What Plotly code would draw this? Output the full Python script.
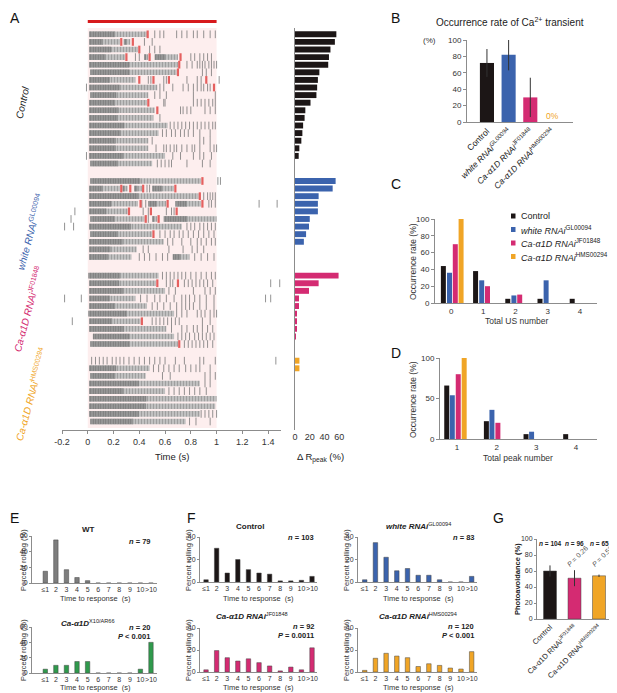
import plotly.graph_objects as go

# the page body keeps an 8 px margin, so the figure is drawn 8 px smaller and
# every position below is given in page pixels
PAGE_W, PAGE_H = 617, 693
OFF = 8
W, H = PAGE_W - OFF, PAGE_H - OFF
FONT = "Liberation Sans, Arial, sans-serif"
BLACK = "#1c1616"
BLUE = "#3b63ad"
PINK = "#d42b72"
ORANGE = "#f0a526"
GREEN = "#2f9a4c"
GRAY = "#7d7d7d"


def px(x):
    return (x - OFF) / W


def py(y):
    return 1 - (y - OFF) / H


# ---------------- panel A raster data (time in s) ----------------
ctrl_dense = [[(0.01, 0.46)], [(0.01, 0.25), (0.28, 0.33)], [(0.01, 0.39)],
              [(0.01, 0.29), (0.44, 0.47), (0.52, 0.70)], [(0.01, 0.70)], [(0.02, 0.69)],
              [(0.01, 0.37)], [(0.01, 0.54)], [(0.02, 0.47)], [(0.01, 0.46)], [(0.01, 0.52)],
              [(0.01, 0.51)], [(0.01, 0.62)], [(0.01, 0.55)], [(0.01, 0.47)], [(0.01, 0.47)],
              [(0.01, 0.60)], [(0.02, 0.50)]]
ctrl_red = [[0.465], [0.26, 0.35], [0.40], [0.30, 0.48, 0.72], [0.71], [0.70],
            [0.40, 0.51, 0.63, 0.92], [0.98], [], [0.47], [0.54], [], [], [], [], [], [], []]
ctrl_ticks = [[0.52, 0.56, 0.59, 0.69, 0.73, 0.77, 0.82, 0.85, 0.90, 0.95, 0.99],
              [0.44, 0.50], [0.48, 0.52, 0.56],
              [0.37, 0.40, 0.80, 0.83, 0.87, 0.90, 0.93, 0.96],
              [0.77, 0.81, 0.85, 0.87, 0.89, 0.91, 0.94, 0.96, 0.98, 1.0],
              [0.89, 0.92, 0.96],
              [0.47, 0.49, 0.59, 0.61, 0.77, 0.85, 0.88, 1.02],
              [-0.01, 0.56, 0.59, 0.66, 0.74, 0.78, 0.82, 0.85, 0.88, 0.90, 0.93, 0.95],
              [0.52, 0.56, 0.61, 0.82, 0.99],
              [0.59, 0.60, 0.82, 0.85, 0.88, 0.91, 0.94, 0.97, 0.99],
              [0.72, 0.74, 0.77, 0.80, 0.91, 0.95, 0.99],
              [0.56],
              [0.64, 0.67, 0.70, 0.73, 0.76, 0.79, 0.82, 0.85, 0.88, 0.91, 0.94, 0.97, 0.99],
              [0.58, 0.61, 0.65, 0.68, 0.72, 0.75, 0.78, 0.82, 0.87, 0.95],
              [0.50, 0.87, 0.90, 0.95],
              [0.53, 0.59, 0.61, 0.64, 0.67, 0.69, 0.73, 0.77, 0.81, 0.83, 0.87, 0.95, 0.98, 1.0],
              [-0.01, 0.66, 0.72, 0.82, 0.87, 0.90, 0.96],
              [0.54, 0.57, 0.60, 0.63, 0.65, 0.77, 0.89, 0.95]]

white_dense = [[(0.02, 0.88)], [(0.01, 0.25), (0.27, 0.31), (0.36, 0.42), (0.50, 0.67)],
               [(0.01, 0.86)], [(0.01, 0.39), (0.47, 0.61), (0.68, 0.88)], [(0.01, 0.31)],
               [(0.02, 0.44), (0.50, 0.54), (0.59, 1.0)], [(0.01, 0.73)], [(0.02, 0.50)],
               [(0.01, 0.59)], [(0.01, 0.38)], [(0.01, 0.34), (0.66, 0.79)]]
white_red = [[0.89], [0.26, 0.33, 0.43, 0.68], [0.87], [0.41, 0.62, 0.89], [0.32, 0.49, 0.69],
             [0.45, 0.55], [], [0.51], [], [], []]
white_ticks = [[1.01, 1.03], [0.46, 0.48], [0.90, 0.93, 0.95, 0.97, 0.99],
               [0.42, 0.45, 0.94, 0.96, 0.99, 1.33, 1.47],
               [-0.10, 0.43, 0.47, 0.61, 0.65, 0.67], [-0.13, 0.47],
               [-0.18, -0.11, 0.77, 0.80, 0.83, 0.87, 0.90, 0.93, 0.96, 0.99],
               [0.56, 0.60, 0.64, 0.67, 0.71, 0.74, 0.78, 0.82, 0.86, 0.90, 0.94, 0.98],
               [0.62, 0.66, 0.73, 0.80, 0.85, 0.88, 0.92, 0.96, 0.99],
               [0.43, 0.47, 0.63, 0.74, 0.81, 0.85, 0.90],
               [0.40, 0.44, 0.48, 0.53, 0.58, 0.62, 0.83, 0.88, 0.93, 0.98]]

jf_dense = [[(0.005, 0.55)], [(0.01, 0.53)], [(0.01, 0.60)], [(0.01, 0.37)], [(0.01, 0.46)],
            [(0.005, 0.67)], [(0.01, 0.41)], [(0.01, 0.61)], [(0.04, 0.67)], [(0.02, 0.70)]]
jf_red = [[], [0.54, 0.70], [], [], [], [], [0.42], [], [], [0.71]]
jf_ticks = [[0.58, 0.61, 0.64, 0.67, 0.70, 0.73, 0.76, 0.80, 0.84, 0.88, 0.92, 0.96, 0.99],
            [0.61, 0.64, 0.66, 0.75, 0.78, 0.81, 0.84, 0.87, 0.90, 0.93, 0.97, 1.42, 1.49],
            [0.63, 0.68, 0.82, 0.91, 0.95, 0.99],
            [-0.18, -0.05, 0.41, 0.46, 0.52, 0.56, 0.61, 0.67, 0.73, 0.76, 0.79, 0.83, 0.87,
             0.92, 0.98, 1.38, 1.42],
            [0.50, 0.54, 0.59, 0.64, 0.69, 0.73, 0.76, 0.79, 0.82, 0.87, 0.92, 0.98],
            [0.69, 0.73, 0.77, 0.85, 0.88, 0.91, 0.95, 0.98, 1.0],
            [-0.12, 0.50, 0.53, 0.56, 0.59, 0.62, 0.65, 0.68, 0.71, 0.89, 0.95],
            [0.65, 0.73, 0.77, 0.82, 0.85, 0.89, 0.93, 0.97],
            [0.70, 0.73, 0.76, 0.79, 0.83, 0.86, 0.89, 0.92, 0.95, 0.98],
            [0.75, 0.78, 0.81, 0.84, 0.87, 0.90, 0.93, 0.97]]

hms_dense = [[], [(0.01, 0.48)], [(0.02, 0.45)], [(0.01, 0.87)], [(0.01, 0.60)],
             [(0.01, 1.0)], [(0.01, 0.99)], [(0.01, 0.87)], [(0.02, 0.76)]]
hms_red = [[] for _ in range(9)]
hms_ticks = [[0.03, 0.06, 0.09, 0.12, 0.15, 0.19, 0.22, 0.25, 0.28, 0.32, 0.36, 0.40, 0.44,
              0.48, 0.52, 0.56, 0.60, 0.68, 0.75, 0.87, 0.90, 0.99, 1.46],
             [0.51, 0.55, 0.59, 0.63, 0.67, 0.71, 0.76, 0.80, 0.84, 0.87, 0.95],
             [0.58, 0.64, 0.91, 0.95, 0.99], [0.91, 0.95],
             [0.63, 0.67, 0.71, 0.75, 0.79, 0.83, 0.87, 0.92], [], [],
             [0.88, 0.91, 0.94, 0.97, 1.0], [0.79, 0.84, 0.95]]

# delta R peak (%)
ctrl_peak = [56, 54, 48, 46, 45, 33, 31, 30, 29, 21, 14, 13, 11, 10, 8.6, 5.9, 5]
white_peak = [55, 51, 32, 31, 31, 20, 19, 15, 12]
jf_peak = [59, 32, 19, 5.4, 5.4, 1.8, 1.8, 1.4, 0.5]
hms_peak = [6, 6]

# ---------------- panel B ----------------
b_labels = ["Control", "<i>white RNAi</i><sup>GL00094</sup>",
            "<i>Ca-α1D RNAi</i><sup>JF01848</sup>", "<i>Ca-α1D RNAi</i><sup>HMS00294</sup>"]
b_vals = [72, 82, 30, 0]
b_err = [17, 19, 24, 0]

# ---------------- panel C / D ----------------
us_cats = [0, 1, 2, 3, 4]
c_ctrl = [44, 38, 5, 5, 5]
c_white = [36, 27, 9, 27, 0]
c_jf = [70, 20, 10, 0, 0]
c_hms = [100, 0, 0, 0, 0]
peak_cats = [1, 2, 3, 4]
d_ctrl = [66, 22, 6, 6]
d_white = [54, 36, 9, 0]
d_jf = [80, 20, 0, 0]
d_hms = [100, 0, 0, 0]

# ---------------- panel E / F ----------------
time_cats = ["≤1", "2", "3", "4", "5", "6", "7", "8", "9", "10", ">10"]
e_wt = [15, 55, 17, 7, 3, 0, 0, 0, 0, 0, 0]
e_x10 = [5, 10, 10, 15, 15, 0, 0, 0, 0, 5, 40]
f_ctrl = [2, 30, 8, 20, 11, 8, 7, 1, 1, 1.5, 5]
f_white = [2, 35, 22, 10, 12, 6, 6, 2, 0, 0, 5]
f_jf = [2, 19.5, 13, 10, 12, 8.5, 5.5, 1, 4.5, 2, 22]
f_hms = [1.5, 12.5, 17, 14.5, 13, 5, 7.5, 6, 3.6, 2.7, 18.5]

# ---------------- panel G ----------------
g_labels = ["Control", "Ca-α1D RNAi<sup>JF01848</sup>", "Ca-α1D RNAi<sup>HMS00294</sup>"]
g_vals = [60, 51, 54]
g_err = [7, 10, 1.5]

fig = go.Figure()

# ---- A raster ----
group_offsets = [0, 19.3, 31.76, 42.95]
groups = [(ctrl_dense, ctrl_ticks, ctrl_red, ctrl_peak, BLACK),
          (white_dense, white_ticks, white_red, white_peak, BLUE),
          (jf_dense, jf_ticks, jf_red, jf_peak, PINK),
          (hms_dense, hms_ticks, hms_red, hms_peak, ORANGE)]

dy, dbase, dlen, ty, tx, ry, rx = [], [], [], [], [], [], []
for (dense, ticks, red, peak, col), off in zip(groups, group_offsets):
    for i, row in enumerate(dense):
        for a, b in row:
            dy.append(off + i)
            dbase.append(a)
            dlen.append(b - a)
        for t in ticks[i]:
            ty.append(off + i)
            tx.append(t)
        for t in red[i]:
            ry.append(off + i)
            rx.append(t)
    fig.add_trace(go.Bar(orientation="h", y=[off + i for i in range(len(peak))], x=peak,
                         width=0.78, marker=dict(color=col, line=dict(width=0)),
                         xaxis="x2", yaxis="y2", showlegend=False))

# dense firing: light striped block, darker over its first part
fig.add_trace(go.Bar(orientation="h", y=dy, x=dlen, base=dbase, width=0.74,
                     marker=dict(color="#bdbdbd", line=dict(width=0),
                                 pattern=dict(shape="|", fgcolor="#777777", bgcolor="#c6c6c6",
                                              size=3, solidity=0.45)),
                     xaxis="x", yaxis="y", showlegend=False))
fig.add_trace(go.Bar(orientation="h", y=dy, x=[d * 0.45 for d in dlen], base=dbase, width=0.74,
                     marker=dict(color="#8a8a8a", line=dict(width=0),
                                 pattern=dict(shape="|", fgcolor="#555555", bgcolor="#a0a0a0",
                                              size=2.5, solidity=0.5)),
                     xaxis="x", yaxis="y", showlegend=False))
fig.add_trace(go.Scatter(x=tx, y=ty, mode="markers", xaxis="x", yaxis="y", showlegend=False,
                         marker=dict(symbol="line-ns", size=5.5,
                                     line=dict(color="#777777", width=0.8))))
fig.add_trace(go.Scatter(x=rx, y=ry, mode="markers", xaxis="x", yaxis="y", showlegend=False,
                         marker=dict(symbol="line-ns", size=5.5,
                                     line=dict(color="#e5605f", width=2.2))))

# ---- B ----
fig.add_trace(go.Bar(x=list(range(4)), y=b_vals, width=0.65,
                     marker=dict(color=[BLACK, BLUE, PINK, ORANGE], line=dict(width=0)),
                     error_y=dict(type="data", array=b_err, color="#333", thickness=1, width=0),
                     xaxis="x3", yaxis="y3", showlegend=False))

# ---- C / D ----
c_off = [-0.24, -0.05, 0.13, 0.31]
d_off = [-0.26, -0.12, 0.03, 0.18]
for vals, col, o in zip([c_ctrl, c_white, c_jf, c_hms], [BLACK, BLUE, PINK, ORANGE], c_off):
    fig.add_trace(go.Bar(x=us_cats, y=vals, width=0.155, offset=o - 0.0775,
                         marker=dict(color=col, line=dict(width=0)),
                         xaxis="x4", yaxis="y4", showlegend=False))
for vals, col, o in zip([d_ctrl, d_white, d_jf, d_hms], [BLACK, BLUE, PINK, ORANGE], d_off):
    fig.add_trace(go.Bar(x=peak_cats, y=vals, width=0.126, offset=o - 0.063,
                         marker=dict(color=col, line=dict(width=0)),
                         xaxis="x5", yaxis="y5", showlegend=False))

# ---- E / F ----
ef = [(e_wt, GRAY, 6), (e_x10, GREEN, 7), (f_ctrl, BLACK, 8), (f_white, BLUE, 9),
      (f_jf, PINK, 10), (f_hms, ORANGE, 11)]
for vals, col, k in ef:
    fig.add_trace(go.Bar(x=list(range(11)), y=vals, width=0.42,
                         marker=dict(color=col, line=dict(width=0.5, color="#444")),
                         xaxis=f"x{k}", yaxis=f"y{k}", showlegend=False))

# ---- G ----
fig.add_trace(go.Bar(x=list(range(3)), y=g_vals, width=0.53,
                     marker=dict(color=[BLACK, PINK, ORANGE], line=dict(width=0.5, color="#444")),
                     error_y=dict(type="data", array=g_err, color="#333", thickness=1, width=0),
                     xaxis="x12", yaxis="y12", showlegend=False))


def axis(domain, rng, size=8, **kw):
    d = dict(domain=domain, range=rng, showline=True, linecolor="#8c8c8c", linewidth=1,
             ticks="outside", ticklen=3, tickcolor="#8c8c8c", showgrid=False, zeroline=False,
             tickfont=dict(size=size, color="#333", family=FONT), fixedrange=True,
             automargin=False, tickangle=0)
    d.update(kw)
    return d


ax = {}
ax["xaxis"] = axis([px(62), px(281)], [-0.2, 1.5], size=9, anchor="y",
                   tickvals=[-0.2, 0, 0.2, 0.4, 0.6, 0.8, 1, 1.2, 1.4],
                   ticktext=["-0.2", "0", "0.2", "0.4", "0.6", "0.8", "1", "1.2", "1.4"])
ax["yaxis"] = axis([py(430), py(28)], [52.07, -0.83], anchor="x", visible=False)
ax["xaxis2"] = axis([px(295), px(343)], [0, 65], size=9, anchor="y2", showline=False,
                    ticks="", tickvals=[0, 20, 40, 60])
ax["yaxis2"] = axis([py(430), py(28)], [52.07, -0.83], anchor="x2", ticks="",
                    showticklabels=False)
ax["xaxis3"] = axis([px(467), px(573)], [-0.92, 3.97], anchor="y3", ticks="",
                    tickvals=list(range(4)), ticktext=b_labels, tickangle=-45,
                    tickfont=dict(size=8.5, color="#222", family=FONT))
ax["yaxis3"] = axis([py(122), py(40)], [0, 100], anchor="x3", tickvals=list(range(0, 101, 20)))
ax["xaxis4"] = axis([px(435), px(597)], [-0.5, 4.53], anchor="y4", ticks="", tickvals=us_cats)
ax["yaxis4"] = axis([py(303), py(219)], [0, 100], anchor="x4", tickvals=list(range(0, 101, 20)))
ax["xaxis5"] = axis([px(440), px(597)], [0.57, 4.53], anchor="y5", ticks="",
                    tickvals=peak_cats)
ax["yaxis5"] = axis([py(439), py(358)], [0, 100], anchor="x5", tickvals=[0, 50, 100])

ef_dom = {6: ([32, 157], [583, 536], [-1.26, 10.57], 60),
          7: ([32, 157], [673, 627], [-1.26, 10.57], 60),
          8: ([200, 317], [582, 537], [-0.57, 10.47], 40),
          9: ([358, 477], [582, 537], [-0.63, 10.5], 40),
          10: ([200, 317], [672, 628], [-0.57, 10.47], 40),
          11: ([358, 477], [672, 628], [-0.63, 10.5], 40)}
for k, (xd, yd, xr, ym) in ef_dom.items():
    ax[f"xaxis{k}"] = axis([px(xd[0]), px(xd[1])], xr, size=7, anchor=f"y{k}",
                           tickvals=list(range(11)), ticktext=time_cats, ticks="")
    ax[f"yaxis{k}"] = axis([py(yd[0]), py(yd[1])], [0, ym], size=7, anchor=f"x{k}",
                           tickvals=list(range(0, ym + 1, 20)), ticklen=2)

ax["xaxis12"] = axis([px(537), px(612)], [-0.53, 2.53], anchor="y12", ticks="",
                     tickvals=list(range(3)), ticktext=g_labels, tickangle=-45,
                     tickfont=dict(size=7.5, color="#222", family=FONT))
ax["yaxis12"] = axis([py(619), py(539)], [0, 100], size=7, anchor="x12", ticklen=2,
                     tickvals=list(range(0, 101, 20)))

anns = []


def ann(text, x, y, size=9, color="#222", angle=0, xanchor="center", yanchor="middle"):
    anns.append(dict(text=text, x=px(x), y=py(y), xref="paper", yref="paper", showarrow=False,
                     font=dict(size=size, color=color, family=FONT), textangle=angle,
                     xanchor=xanchor, yanchor=yanchor))


for lab, x, y in [("A", 8, 8), ("B", 389, 8), ("C", 389, 174), ("D", 389, 343),
                  ("E", 8, 508), ("F", 185, 508), ("G", 491, 508)]:
    ann(lab, x, y, size=14, color="#111", xanchor="left", yanchor="top")

# A labels
ann("<i>Control</i>", 23, 103, size=10, color="#222", angle=-78)
ann("<i>white RNAi</i><sup>GL00094</sup>", 30, 232, size=10, color=BLUE, angle=-75)
ann("<i>Ca-α1D RNAi</i><sup>JF01848</sup>", 28, 309, size=10, color=PINK, angle=-75)
ann("<i>Ca-α1D RNAi</i><sup>HMS00294</sup>", 31, 394, size=10, color=ORANGE, angle=-75)
ann("Time (s)", 172, 456, size=9.5)
ann("Δ R<sub>peak</sub> (%)", 320, 457, size=9.5)

# B
ann("Occurrence rate of Ca<sup>2+</sup> transient", 510, 22, size=10)
ann("(%)", 429, 40, size=8, color="#333")
ann("0%", 552, 116, size=8.5, color=ORANGE)

# C / D
ann("Occurrence rate (%)", 413, 262, size=8.5, color="#333", angle=-90)
ann("Total US number", 516, 321, size=8.5, color="#333")
ann("Occurrence rate (%)", 413, 400, size=8.5, color="#333", angle=-90)
ann("Total peak number", 518, 458, size=8.5, color="#333")
legend_items = [("Control", BLACK), ("<i>white RNAi</i><sup>GL00094</sup>", BLUE),
                ("<i>Ca-α1D RNAi</i><sup>JF01848</sup>", PINK),
                ("<i>Ca-α1D RNAi</i><sup>HMS00294</sup>", ORANGE)]
shapes = []
for j, (lab, col) in enumerate(legend_items):
    yy = 216 + j * 13.5
    shapes.append(dict(type="rect", xref="paper", yref="paper", x0=px(511), x1=px(515.5),
                       y0=py(yy + 2.5), y1=py(yy - 2.5), fillcolor=col, line=dict(width=0)))
    ann(lab, 519, yy, size=9, color="#222", xanchor="left")

# E / F
ann("<b>WT</b>", 88, 529, size=8)
ann("<b><i>n</i> = 79</b>", 152, 541, size=7.5, xanchor="right")
ann("<b><i>Ca-α1D</i></b><sup>X10/AR66</sup>", 88, 623, size=8)
ann("<b><i>n</i> = 20</b>", 152, 627, size=7.5, xanchor="right")
ann("<b><i>P</i> < 0.001</b>", 152, 636, size=7.5, xanchor="right")
ann("<b>Control</b>", 250, 526, size=8)
ann("<b><i>n</i> = 103</b>", 316, 537, size=7.5, xanchor="right")
ann("<b><i>white RNAi</i></b><sup>GL00094</sup>", 418, 526, size=8)
ann("<b><i>n</i> = 83</b>", 476, 537, size=7.5, xanchor="right")
ann("<b><i>Ca-α1D RNAi</i></b><sup>JF01848</sup>", 252, 616, size=8)
ann("<b><i>n</i> = 92</b>", 316, 626, size=7.5, xanchor="right")
ann("<b><i>P</i> = 0.0011</b>", 316, 635, size=7.5, xanchor="right")
ann("<b><i>Ca-α1D RNAi</i></b><sup>HMS00294</sup>", 418, 616, size=8)
ann("<b><i>n</i> = 120</b>", 476, 626, size=7.5, xanchor="right")
ann("<b><i>P</i> < 0.001</b>", 476, 635, size=7.5, xanchor="right")
for x, y in [(95, 598), (95, 687), (258, 598), (258, 687), (418, 598), (418, 687)]:
    ann("Time to response  (s)", x, y, size=7.5, color="#333")
for x, y in [(23, 560), (23, 650), (188, 560), (188, 650), (346, 560), (346, 650)]:
    ann("Percent rolling (%)", x, y, size=7.5, color="#333", angle=-90)

# G
ann("<b>Photoavoidance (%)</b>", 517, 579, size=7.5, angle=-90)
for x, t in [(550, "104"), (574, "96"), (599, "65")]:
    ann(f"<b><i>n</i> = {t}</b>", x, 543, size=6.5)
ann("<i>P</i> = 0.26", 577, 556, size=7, color="#555", angle=-45)
ann("<i>P</i> = 0.52", 602, 556, size=7, color="#555", angle=-45)

# pink stimulus window and red bar
shapes.append(dict(type="rect", xref="x", yref="paper", x0=0, x1=1, y0=py(428), y1=py(28),
                   fillcolor="#fdeeee", line=dict(width=0), layer="below"))
shapes.append(dict(type="line", xref="x", yref="paper", x0=0, x1=1, y0=py(21.5), y1=py(21.5),
                   line=dict(color="#d7191c", width=3)))

fig.update_layout(width=W, height=H, margin=dict(l=0, r=0, t=0, b=0), barmode="overlay",
                  paper_bgcolor="white", plot_bgcolor="rgba(0,0,0,0)",
                  font=dict(family=FONT), annotations=anns, shapes=shapes, **ax)

fig.write_html("out.html")
